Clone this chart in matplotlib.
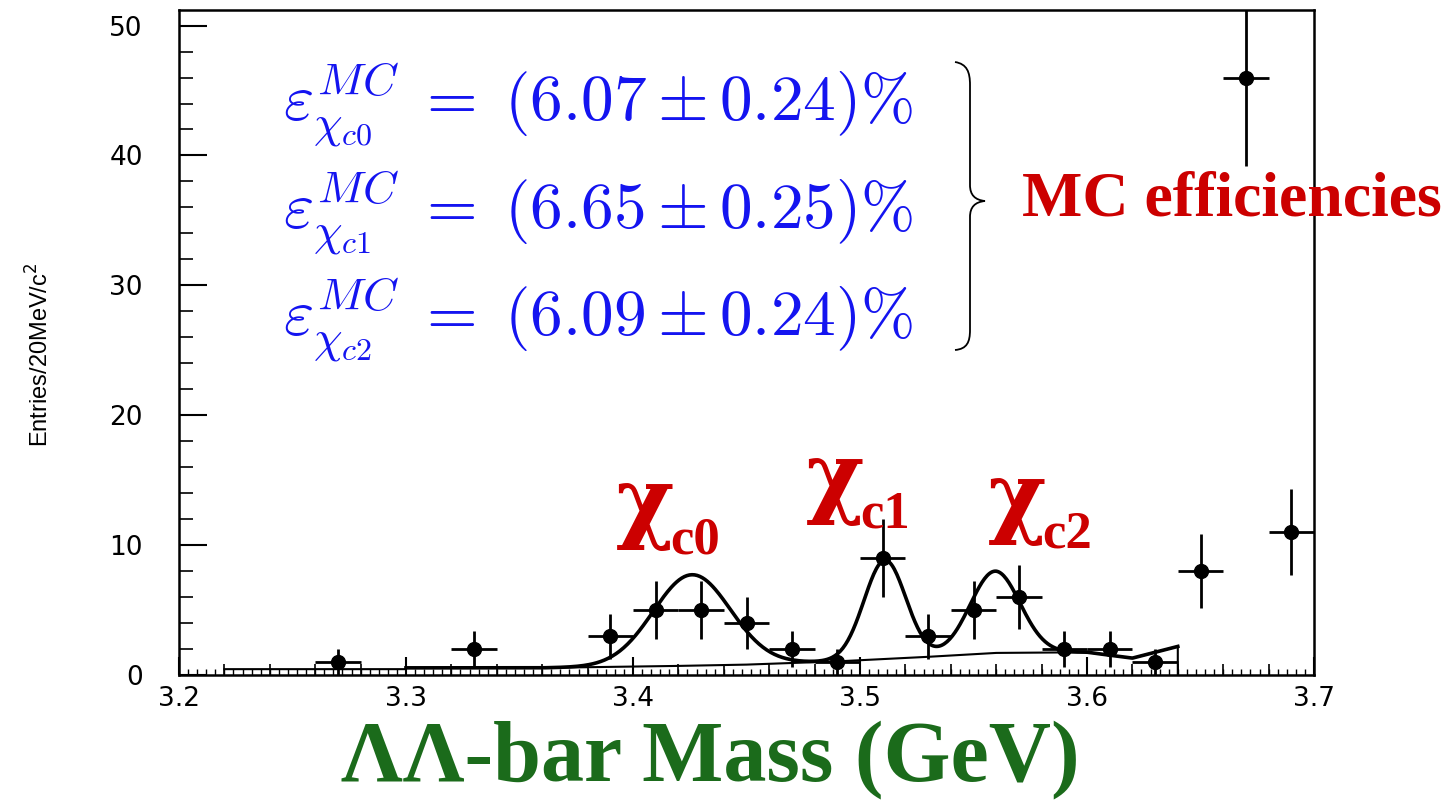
import numpy as np
import matplotlib.pyplot as plt
from matplotlib.path import Path
from matplotlib.patches import PathPatch
from matplotlib.ticker import MultipleLocator

# measured entries per 20 MeV bin
mass = [3.27, 3.33, 3.39, 3.41, 3.43, 3.45, 3.47, 3.49, 3.51, 3.53,
        3.55, 3.57, 3.59, 3.61, 3.63, 3.65, 3.67, 3.69]
entries = [1, 2, 3, 5, 5, 4, 2, 1, 9, 3, 5, 6, 2, 2, 1, 8, 46, 11]
yerr = [1.0, 1.41, 1.73, 2.24, 2.24, 2.0, 1.41, 1.0, 3.0, 1.73,
        2.24, 2.45, 1.41, 1.41, 1.0, 2.83, 6.78, 3.32]
xerr = 0.01

# background shape
bg_x = [3.22, 3.30, 3.30, 3.36, 3.42, 3.45, 3.49, 3.53, 3.56, 3.60, 3.62, 3.64, 3.64]
bg_y = [0.45, 0.45, 0.55, 0.55, 0.7, 0.8, 1.05, 1.4, 1.7, 1.75, 1.3, 2.2, 0.0]

# gaussian peaks: mean, sigma, amplitude
peak_mean = [3.426, 3.511, 3.5595]
peak_sigma = [0.017, 0.0092, 0.011]
peak_amp = [7.0, 7.6, 6.3]

eff_names = ["c0", "c1", "c2"]
eff_vals = ["6.07", "6.65", "6.09"]
eff_errs = ["0.24", "0.25", "0.24"]

W, H = 1456, 802


def px(x, y):
    return x / W, 1 - y / H


fig = plt.figure(figsize=(W / 100, H / 100), dpi=100)
ax = fig.add_axes([179 / W, 1 - 675 / H, (1314 - 179) / W, (675 - 10) / H])

# fit curve = background + three gaussians
xf = np.linspace(3.30, 3.64, 600)
total = np.interp(xf, bg_x[2:-1], bg_y[2:-1])
for m, s, a in zip(peak_mean, peak_sigma, peak_amp):
    total = total + a * np.exp(-0.5 * ((xf - m) / s) ** 2)
ax.plot(bg_x, bg_y, color="black", lw=1.5)
ax.plot(xf, total, color="black", lw=2.6)

ax.errorbar(mass, entries, yerr=yerr, xerr=xerr, fmt="o", color="black",
            ms=10, elinewidth=2, capsize=0)

ax.set_xlim(3.2, 3.7)
ax.set_ylim(0, 51.2)
ax.xaxis.set_major_locator(MultipleLocator(0.1))
ax.xaxis.set_minor_locator(MultipleLocator(0.004))
ax.yaxis.set_major_locator(MultipleLocator(10))
ax.yaxis.set_minor_locator(MultipleLocator(2))
ax.tick_params(axis="x", which="major", direction="in", length=13, width=1.5,
               labelsize=19, pad=8)
ax.tick_params(axis="x", which="minor", direction="in", length=4, width=1)
ax.tick_params(axis="y", which="major", direction="in", length=20, width=1.5,
               labelsize=19, pad=26)
ax.tick_params(axis="y", which="minor", direction="in", length=10, width=1.2)
ax.xaxis.set_major_formatter(plt.FuncFormatter(lambda v, p: f"{v:.1f}"))
for s in ax.spines.values():
    s.set_linewidth(1.8)

# medium ticks every 20 MeV
sec = ax.secondary_xaxis("bottom")
sec.xaxis.set_major_locator(MultipleLocator(0.02))
sec.tick_params(direction="in", length=8, width=1.2, labelbottom=False)
sec.spines["bottom"].set_visible(False)

fig.text(*px(40, 355), "Entries/20MeV/c$^2$", rotation=90, fontsize=17,
         family="Liberation Sans", ha="center", va="center")

# x label
fig.text(*px(710, 780), "ΛΛ-bar Mass (GeV)", fontsize=62, family="Liberation Serif",
         weight="bold", color="#1b6b1b", ha="center", va="baseline")

# efficiencies
rows_y = [105, 213, 320]
for name, v, e, ry in zip(eff_names, eff_vals, eff_errs, rows_y):
    fig.text(*px(283, ry),
             r"$\varepsilon^{MC}_{\chi_{%s}}\;=\;(%s \pm %s)\%%$" % (name, v, e),
             fontsize=47, color="#1414f0", math_fontfamily="cm",
             ha="left", va="center")

fig.text(*px(1022, 215), "MC efficiencies", fontsize=46, family="Liberation Serif",
         weight="bold", color="#cc0000", ha="left", va="baseline")

# brace
bx = [(955, 62), (967, 64), (970, 72), (970, 85), (970, 185),
      (970, 195), (975, 200), (985, 201),
      (975, 202), (970, 207), (970, 217), (970, 330),
      (970, 342), (967, 349), (955, 350)]
codes = [Path.MOVETO, Path.CURVE4, Path.CURVE4, Path.CURVE4, Path.LINETO,
         Path.CURVE4, Path.CURVE4, Path.CURVE4,
         Path.CURVE4, Path.CURVE4, Path.CURVE4, Path.LINETO,
         Path.CURVE4, Path.CURVE4, Path.CURVE4]
brace = Path([px(x, y) for x, y in bx], codes)
fig.patches.append(PathPatch(brace, transform=fig.transFigure, fill=False,
                             lw=1.3, color="black"))

# peak labels
for name, (cx, cy), (sx, sy) in zip(eff_names,
                                    [(616, 531), (806, 506), (988, 526)],
                                    [(670, 553), (860, 528), (1042, 548)]):
    fig.text(*px(cx, cy), "χ", fontsize=64, family="DejaVu Serif",
             weight="bold", color="#cc0000", ha="left", va="baseline")
    fig.text(*px(sx, sy), name, fontsize=38, family="Liberation Serif",
             weight="bold", color="#cc0000", ha="left", va="baseline")

fig.savefig("out.png", dpi=100)
